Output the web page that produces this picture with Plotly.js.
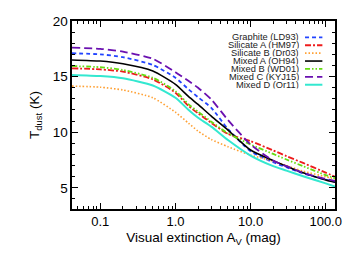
<!DOCTYPE html>
<html>
<head>
<meta charset="utf-8">
<script src="https://cdn.plot.ly/plotly-3.0.1.min.js"></script>
<style>html,body{margin:0;padding:0;background:#fff;}#chart{width:357px;height:255px;}</style>
</head>
<body>
<div id="chart"></div>
<script>
// Visual extinction A_V (mag)
const av = [0.042, 0.1, 0.2, 0.5, 1, 1.5, 2, 3, 5, 10, 20, 30, 50, 100, 133];

// Dust temperature (K) for each model
const graphiteLD93  = [17.1, 17.0, 16.75, 16.05, 14.9, 13.85, 13.15, 12.2, 10.3, 8.3, 7.3, 6.85, 6.3, 5.75, 5.55];
const silicateAHM97 = [15.75, 15.65, 15.45, 14.75, 13.55, 12.35, 11.7, 10.85, 9.85, 9.2, 8.37, 7.86, 7.24, 6.37, 6.0];
const silicateBDr03 = [14.15, 14.05, 13.8, 13.1, 11.8, 10.8, 10.1, 9.35, 8.7, 7.95, 7.4, 7.0, 6.5, 6.0, 5.8];
const mixedAOH94    = [16.5, 16.4, 16.15, 15.5, 14.3, 13.2, 12.5, 11.45, 10.2, 8.4, 7.45, 6.95, 6.35, 5.7, 5.5];
const mixedBWD01    = [15.95, 15.85, 15.6, 14.9, 13.7, 12.5, 11.85, 10.95, 9.9, 8.9, 8.05, 7.55, 6.95, 6.15, 5.87];
const mixedCKYJ15   = [17.6, 17.5, 17.25, 16.6, 15.4, 14.6, 14.0, 12.95, 11.1, 8.9, 7.45, 6.95, 6.35, 5.8, 5.62];
const mixedDOr11    = [15.15, 15.05, 14.85, 14.2, 13.1, 12.0, 11.3, 10.5, 9.3, 7.9, 6.95, 6.55, 6.05, 5.4, 5.12];

const seriesNames = ["Graphite (LD93)", "Silicate A (HM97)", "Silicate B (Dr03)", "Mixed A (OH94)",
                     "Mixed B (WD01)", "Mixed C (KYJ15)", "Mixed D (Or11)"];
const seriesValues = [graphiteLD93, silicateAHM97, silicateBDr03, mixedAOH94, mixedBWD01, mixedCKYJ15, mixedDOr11];

const xTickVals = [0.1, 1, 10, 100];
const xTickText = ["0.1", "1.0", "10.0", "100.0"];
const xMinorVals = [0.05,0.06,0.07,0.08,0.09,0.2,0.3,0.4,0.5,0.6,0.7,0.8,0.9,2,3,4,5,6,7,8,9,20,30,40,50,60,70,80,90];
const yTickVals = [5, 10, 15, 20];

// styles
const colors = ["#2244ff", "#ee1c1c", "#ffa033", "#000000", "#66dd11", "#6a10b0", "#33e8d0"];
const dashes = ["4px,3px", "6px,2px,2px,2px", "1.5px,2px", "solid", "5px,2px,1.5px,2px,1.5px,2px", "8px,4px", "solid"];
const widths = [1.8, 1.8, 1.6, 1.6, 1.8, 1.8, 2.0];

const traces = seriesNames.map((n, i) => ({
  x: av, y: seriesValues[i], name: n, type: "scatter", mode: "lines",
  line: {color: colors[i], dash: dashes[i], width: widths[i], shape: "spline", smoothing: 0.6},
  showlegend: false
}));

const font = {family: "Liberation Sans, Arial, sans-serif", color: "#000"};

// Legend (text on left, sample on right) drawn in paper space
const annotations = [];
const shapes = [];
const legTop = 0.913, legStep = 0.042;
seriesNames.forEach((n, i) => {
  const yy = legTop - i * legStep;
  annotations.push({xref: "paper", yref: "paper", x: 0.868, y: yy, xanchor: "right", yanchor: "middle",
    text: n, showarrow: false, borderpad: 0, height: 7.5,
    font: Object.assign({}, font, {size: 9.3, color: "#222"})});
  shapes.push({type: "line", xref: "paper", yref: "paper", x0: 0.886, x1: 0.952, y0: yy, y1: yy,
    line: {color: colors[i], dash: dashes[i], width: widths[i]}});
});

const layout = {
  width: 357, height: 255,
  margin: {l: 72, r: 22, t: 21, b: 46},
  paper_bgcolor: "#fff", plot_bgcolor: "#fff",
  font: Object.assign({}, font, {size: 13}),
  xaxis: {
    type: "log", range: [Math.log10(0.042), Math.log10(133)],
    tickvals: xTickVals, ticktext: xTickText,
    ticks: "inside", ticklen: 6, tickwidth: 1.2, tickcolor: "#000",
    minor: {ticks: "inside", ticklen: 3, tickwidth: 1, tickcolor: "#000", showgrid: false, tickvals: xMinorVals},
    showline: true, linecolor: "#000", linewidth: 1.6, mirror: "allticks",
    showgrid: false, zeroline: false,
    tickfont: Object.assign({}, font, {size: 13}),
    title: {text: "Visual extinction A<sub>V</sub> (mag)", font: Object.assign({}, font, {size: 13.5}), standoff: 4}
  },
  yaxis: {
    range: [3.1, 20],
    tickvals: yTickVals,
    ticks: "inside", ticklen: 6, tickwidth: 1.2, tickcolor: "#000",
    minor: {ticks: "inside", ticklen: 3, tickwidth: 1, tickcolor: "#000", dtick: 1, showgrid: false},
    showline: true, linecolor: "#000", linewidth: 1.6, mirror: "allticks",
    showgrid: false, zeroline: false,
    tickfont: Object.assign({}, font, {size: 13.5}),
    title: {text: "T<sub>dust</sub> (K)", font: Object.assign({}, font, {size: 13.5}), standoff: 10}
  },
  annotations: annotations,
  shapes: shapes,
  showlegend: false
};

Plotly.newPlot("chart", traces, layout, {staticPlot: true, displayModeBar: false});
</script>
</body>
</html>
